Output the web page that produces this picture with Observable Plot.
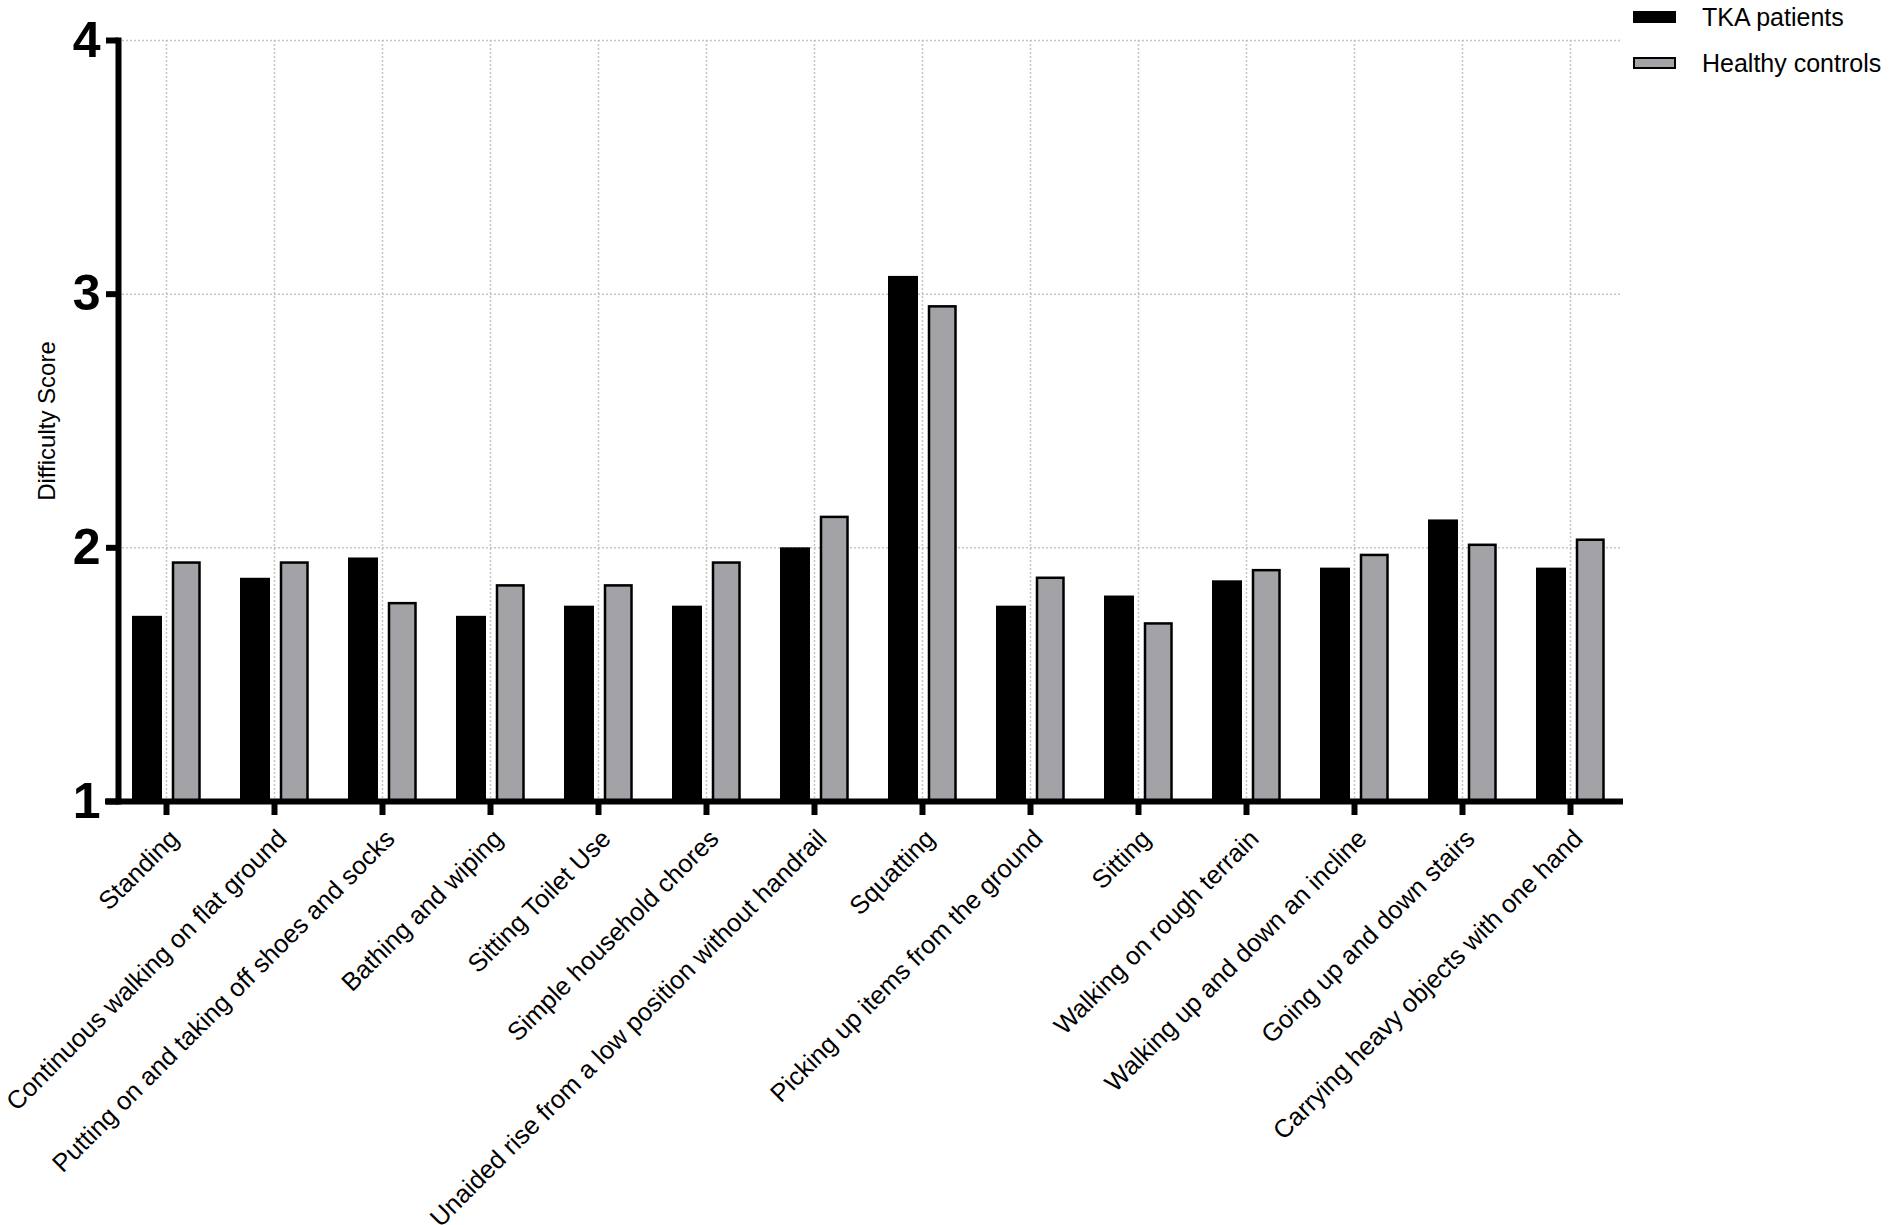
<!DOCTYPE html>
<html>
<head>
<meta charset="utf-8">
<script src="https://cdn.jsdelivr.net/npm/d3@7"></script>
<script src="https://cdn.jsdelivr.net/npm/@observablehq/plot@0.6"></script>
<style>
  body { margin: 0; background: #fff; font-family: "Liberation Sans", Arial, Helvetica, sans-serif; }
  #wrap { position: relative; width: 1890px; height: 1225px; }
  .lg { position: absolute; left: 1633px; height: 30px; display: flex; align-items: center;
        font-size: 25px; color: #000; white-space: nowrap; }
  .sw { display: inline-block; width: 43px; height: 12px; margin-right: 26px; box-sizing: border-box; }
  [aria-label="y-axis label"] { font-size: 24px; font-weight: normal; }
</style>
</head>
<body>
<div id="wrap"></div>
<script>
// ---- data ----
const categories = [
  "Standing",
  "Continuous walking on flat ground",
  "Putting on and taking off shoes and socks",
  "Bathing and wiping",
  "Sitting Toilet Use",
  "Simple household chores",
  "Unaided rise from a low position without handrail",
  "Squatting",
  "Picking up items from the ground",
  "Sitting",
  "Walking on rough terrain",
  "Walking up and down an incline",
  "Going up and down stairs",
  "Carrying heavy objects with one hand"
];
const tkaPatients     = [1.73, 1.88, 1.96, 1.73, 1.77, 1.77, 2.00, 3.07, 1.77, 1.81, 1.87, 1.92, 2.11, 1.92];
const healthyControls = [1.94, 1.94, 1.78, 1.85, 1.85, 1.94, 2.12, 2.95, 1.88, 1.70, 1.91, 1.97, 2.01, 2.03];
const seriesNames = ["TKA patients", "Healthy controls"];
const seriesColors = ["#000000", "#a3a3a7"];
const yDomain = [1, 4];
const yTicks = [1, 2, 3, 4];
const yLabel = "Difficulty Score";

// ---- table ----
const rows = categories.map((c, i) => ({ category: c, tka: tkaPatients[i], ctrl: healthyControls[i] }));

const gridStyle = { stroke: "#c4c4c4", strokeOpacity: 1, strokeWidth: 1.5, strokeDasharray: "2,2" };

const chart = Plot.plot({
  width: 1890,
  height: 1225,
  marginLeft: 118,
  marginRight: 269,
  marginTop: 40,
  marginBottom: 424,
  style: { fontFamily: '"Liberation Sans", Arial, Helvetica, sans-serif', background: "white", color: "black" },
  x: { domain: categories, range: [112, 1624], padding: 0, label: null },
  y: { domain: yDomain, label: yLabel },
  marks: [
    Plot.gridY(yTicks.slice(1), gridStyle),
    Plot.gridX(gridStyle),
    Plot.barY(rows, { x: "category", y1: yDomain[0], y2: "tka", fill: seriesColors[0], insetLeft: 20, insetRight: 58 }),
    Plot.barY(rows, { x: "category", y1: yDomain[0], y2: "ctrl", fill: seriesColors[1], stroke: "black", strokeWidth: 2.5, insetLeft: 61, insetRight: 20.5 }),
    Plot.ruleY([yDomain[0]], { stroke: "black", strokeWidth: 6, insetLeft: -13, insetRight: -2 }),
    Plot.frame({ anchor: "left", stroke: "black", strokeWidth: 6 }),
    Plot.axisY(yTicks, {
      tickSize: 12, strokeWidth: 6, tickPadding: 6,
      fontSize: 50, fontWeight: "bold", tickFormat: d => String(d),
      label: yLabel, labelAnchor: "center", labelArrow: "none", labelOffset: 81
    }),
    // tick marks only
    Plot.axisX({ tickSize: 14, strokeWidth: 6, tickFormat: () => "", label: null }),
    // rotated tick labels only
    Plot.axisX({
      tickSize: 0, tickPadding: 33, tickRotate: -45, dx: 8,
      fontSize: 25.5, label: null
    })
  ]
});

const wrap = document.getElementById("wrap");
wrap.appendChild(chart);

// ---- legend ----
const legendTops = [2, 48];
seriesNames.forEach((name, i) => {
  const row = document.createElement("div");
  row.className = "lg";
  row.style.top = legendTops[i] + "px";
  const sw = document.createElement("span");
  sw.className = "sw";
  sw.style.background = seriesColors[i];
  if (i === 1) sw.style.border = "2px solid #000";
  row.appendChild(sw);
  row.appendChild(document.createTextNode(name));
  wrap.appendChild(row);
});
</script>
</body>
</html>
